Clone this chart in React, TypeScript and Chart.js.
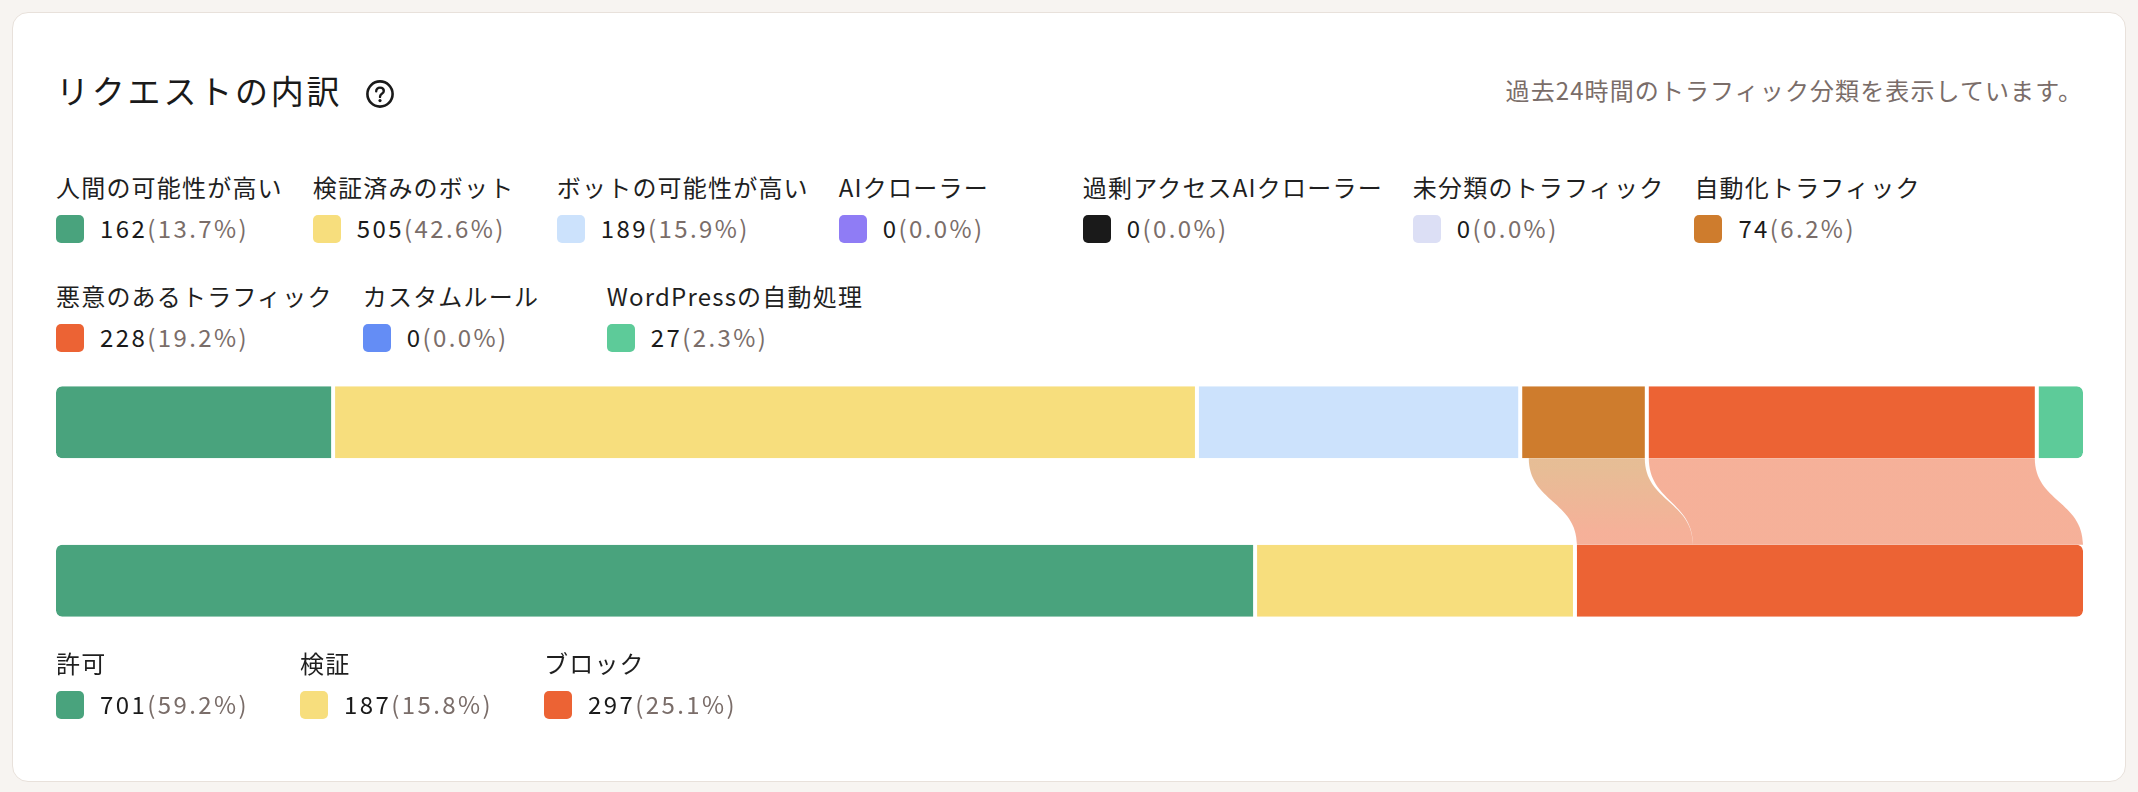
import React, { useEffect, useRef } from "react";
import { Chart, registerables } from "chart.js";

Chart.register(...registerables);

// ---- data ----
const sourceLabels = [
  "人間の可能性が高い",
  "検証済みのボット",
  "ボットの可能性が高い",
  "AIクローラー",
  "過剰アクセスAIクローラー",
  "未分類のトラフィック",
  "自動化トラフィック",
  "悪意のあるトラフィック",
  "カスタムルール",
  "WordPressの自動処理",
];
const sourceValues = [162, 505, 189, 0, 0, 0, 74, 228, 0, 27];
const sourcePercents = ["13.7%", "42.6%", "15.9%", "0.0%", "0.0%", "0.0%", "6.2%", "19.2%", "0.0%", "2.3%"];
const sourceColors = [
  "#49A37D",
  "#F7DE7D",
  "#CCE2FC",
  "#8F7CF5",
  "#1A1A1A",
  "#DCDFF5",
  "#CE7C2D",
  "#EC6334",
  "#648DF5",
  "#5DCB99",
];

const outcomeLabels = ["許可", "検証", "ブロック"];
const outcomeValues = [701, 187, 297];
const outcomePercents = ["59.2%", "15.8%", "25.1%"];
const outcomeColors = ["#49A37D", "#F7DE7D", "#EC6334"];

const flowFrom = ["自動化トラフィック", "悪意のあるトラフィック"];
const flowTo = ["ブロック", "ブロック"];
const flowValues = [69, 228];

const rowLabels = ["source", "outcome"];

const FONT = "'Noto Sans CJK JP', 'Noto Sans', sans-serif";
const GAP = 2;
const RADIUS = 6;

function hexToRgba(hex: string, a: number) {
  const h = hex.replace("#", "");
  const r = parseInt(h.slice(0, 2), 16);
  const g = parseInt(h.slice(2, 4), 16);
  const b = parseInt(h.slice(4, 6), 16);
  return `rgba(${r},${g},${b},${a})`;
}

function rowValuesFor(row: number): number[] {
  const out: number[] = [];
  sourceLabels.forEach((_, i) => out.push(row === 0 ? sourceValues[i] : 0));
  outcomeLabels.forEach((_, i) => out.push(row === 1 ? outcomeValues[i] : 0));
  return out;
}

function edgeInfo(ctx: any) {
  const vals = rowValuesFor(ctx.dataIndex);
  let first = -1;
  let last = -1;
  vals.forEach((v, i) => {
    if (v > 0) {
      if (first < 0) first = i;
      last = i;
    }
  });
  return { first, last, v: vals[ctx.datasetIndex] };
}

function cumulative(values: number[]) {
  const starts: number[] = [];
  let acc = 0;
  values.forEach((v) => {
    starts.push(acc);
    acc += v;
  });
  return starts;
}

function firstLast(values: number[]) {
  let first = -1;
  let last = -1;
  values.forEach((v, i) => {
    if (v > 0) {
      if (first < 0) first = i;
      last = i;
    }
  });
  return { first, last };
}

const flowPlugin = {
  id: "flows",
  beforeDatasetsDraw(chart: any) {
    const x = chart.scales.x;
    const ctx = chart.ctx;
    const topEl = chart.getDatasetMeta(0).data[0];
    const botEl = chart.getDatasetMeta(sourceLabels.length).data[1];
    if (!topEl || !botEl) return;
    const tp = topEl.getProps(["y", "height"], true);
    const bp = botEl.getProps(["y", "height"], true);
    const yTop = tp.y + tp.height / 2;
    const yBot = bp.y - bp.height / 2;
    const ym = (yTop + yBot) / 2;

    const srcStart = cumulative(sourceValues);
    const tgtStart = cumulative(outcomeValues);
    const sFL = firstLast(sourceValues);
    const tFL = firstLast(outcomeValues);

    const srcUsed: number[] = sourceValues.map(() => 0);
    const srcListed: number[] = sourceValues.map(() => 0);
    flowFrom.forEach((f, k) => {
      srcListed[sourceLabels.indexOf(f)] += flowValues[k];
    });
    const tgtUsed: number[] = outcomeValues.map(() => 0);

    flowFrom.forEach((f, k) => {
      const si = sourceLabels.indexOf(f);
      const ti = outcomeLabels.indexOf(flowTo[k]);
      const v = flowValues[k];
      const sEnd = srcStart[si] + sourceValues[si];
      const a0 = sEnd - srcListed[si] + srcUsed[si];
      const a1 = a0 + v;
      srcUsed[si] += v;
      const b0 = tgtStart[ti] + tgtUsed[ti];
      const b1 = b0 + v;
      tgtUsed[ti] += v;

      const sVisL = x.getPixelForValue(srcStart[si]) + (si === sFL.first ? 0 : GAP);
      const sVisR = x.getPixelForValue(sEnd) - (si === sFL.last ? 0 : GAP);
      const tVisL = x.getPixelForValue(tgtStart[ti]) + (ti === tFL.first ? 0 : GAP);
      const tVisR = x.getPixelForValue(tgtStart[ti] + outcomeValues[ti]) - (ti === tFL.last ? 0 : GAP);

      const l0 = Math.max(x.getPixelForValue(a0), sVisL);
      const r0 = Math.min(x.getPixelForValue(a1), sVisR);
      const l1 = Math.max(x.getPixelForValue(b0), tVisL);
      const r1 = Math.min(x.getPixelForValue(b1), tVisR);

      const grad = ctx.createLinearGradient(0, yTop, 0, yBot);
      grad.addColorStop(0.1, hexToRgba(sourceColors[si], 0.5));
      grad.addColorStop(0.85, hexToRgba(outcomeColors[ti], 0.5));

      ctx.save();
      ctx.beginPath();
      ctx.moveTo(l0, yTop);
      ctx.bezierCurveTo(l0, ym, l1, ym, l1, yBot);
      ctx.lineTo(r1, yBot);
      ctx.bezierCurveTo(r1, ym, r0, ym, r0, yTop);
      ctx.closePath();
      ctx.fillStyle = grad;
      ctx.fill();
      ctx.restore();
    });
  },
};

function LegendItem(props: { label: string; value: number; pct: string; color: string }) {
  return (
    <div style={{ minWidth: 214, display: "flex", flexDirection: "column" }}>
      <div
        style={{
          height: 32,
          lineHeight: "32px",
          fontSize: 24,
          letterSpacing: 1.2,
          color: "#1f1f1f",
          whiteSpace: "nowrap",
        }}
      >
        {props.label}
      </div>
      <div style={{ marginTop: 12, height: 28, display: "flex", alignItems: "center" }}>
        <span
          style={{
            width: 28,
            height: 28,
            borderRadius: 5,
            background: props.color,
            flex: "none",
            display: "inline-block",
          }}
        />
        <span
          style={{
            marginLeft: 16,
            fontSize: 24,
            lineHeight: "28px",
            letterSpacing: 2.4,
            whiteSpace: "nowrap",
            position: "relative",
            top: -1,
          }}
        >
          <span style={{ color: "#1a1a1a" }}>{props.value}</span>
          <span style={{ color: "#7A6D69" }}>({props.pct})</span>
        </span>
      </div>
    </div>
  );
}

export default function App() {
  const canvasRef = useRef<HTMLCanvasElement | null>(null);

  useEffect(() => {
    if (!canvasRef.current) return;
    const total = sourceValues.reduce((a, b) => a + b, 0);
    const datasets: any[] = [
      ...sourceLabels.map((l, i) => ({
        label: l,
        data: [sourceValues[i], null],
        backgroundColor: sourceColors[i],
      })),
      ...outcomeLabels.map((l, i) => ({
        label: l,
        data: [null, outcomeValues[i]],
        backgroundColor: outcomeColors[i],
      })),
    ];
    const chart = new Chart(canvasRef.current, {
      type: "bar",
      data: { labels: rowLabels, datasets },
      plugins: [flowPlugin],
      options: {
        animation: false,
        responsive: true,
        maintainAspectRatio: false,
        indexAxis: "y",
        layout: { padding: 0 },
        datasets: {
          bar: {
            barThickness: 72,
            borderSkipped: false,
            borderColor: "#ffffff",
            inflateAmount: 0,
            borderWidth: (ctx: any) => {
              const { first, last, v } = edgeInfo(ctx);
              if (!v) return 0;
              return {
                left: ctx.datasetIndex === first ? 0 : GAP,
                right: ctx.datasetIndex === last ? 0 : GAP,
                top: 0,
                bottom: 0,
              };
            },
            borderRadius: (ctx: any) => {
              const { first, last } = edgeInfo(ctx);
              const f = ctx.datasetIndex === first ? RADIUS : 0;
              const l = ctx.datasetIndex === last ? RADIUS : 0;
              return { topLeft: f, bottomLeft: f, topRight: l, bottomRight: l };
            },
          },
        } as any,
        scales: {
          x: { type: "linear", stacked: true, min: 0, max: total, display: false },
          y: { type: "category", stacked: true, display: false, offset: true },
        },
        plugins: {
          legend: { display: false },
          tooltip: { enabled: false },
        },
      } as any,
    });
    return () => chart.destroy();
  }, []);

  return (
    <div
      style={{
        position: "fixed",
        inset: 0,
        background: "#F7F4F1",
        fontFamily: FONT,
        overflow: "hidden",
      }}
    >
      <div
        style={{
          position: "absolute",
          left: 12,
          top: 12,
          width: 2114,
          height: 770,
          background: "#ffffff",
          border: "1.5px solid #E8E1DB",
          borderRadius: 16,
          boxSizing: "border-box",
        }}
      />
      <div
        style={{
          position: "absolute",
          left: 56,
          top: 70,
          fontSize: 33,
          lineHeight: "40px",
          letterSpacing: 2.8,
          color: "#1a1a1a",
          whiteSpace: "nowrap",
        }}
      >
        リクエストの内訳
      </div>
      <svg
        style={{ position: "absolute", left: 366, top: 80 }}
        width={28}
        height={28}
        viewBox="0 0 28 28"
      >
        <circle cx={14} cy={14} r={12.6} fill="none" stroke="#1a1a1a" strokeWidth={2.6} />
        <path
          d="M10.2 11.2 C10.2 8.9 11.9 7.6 14 7.6 C16.2 7.6 17.8 9 17.8 10.9 C17.8 12.6 16.7 13.4 15.6 14.1 C14.6 14.8 14 15.4 14 16.9"
          fill="none"
          stroke="#1a1a1a"
          strokeWidth={2.4}
          strokeLinecap="round"
        />
        <circle cx={14} cy={20.6} r={1.6} fill="#1a1a1a" />
      </svg>
      <div
        style={{
          position: "absolute",
          right: 55,
          top: 74,
          fontSize: 24,
          lineHeight: "32px",
          letterSpacing: 1.1,
          color: "#7A6D69",
          whiteSpace: "nowrap",
        }}
      >
        過去24時間のトラフィック分類を表示しています。
      </div>

      <div
        style={{
          position: "absolute",
          left: 56,
          top: 171,
          width: 2027,
          display: "flex",
          flexWrap: "wrap",
          columnGap: 30,
          rowGap: 36.5,
        }}
      >
        {sourceLabels.map((l, i) => (
          <LegendItem key={l} label={l} value={sourceValues[i]} pct={sourcePercents[i]} color={sourceColors[i]} />
        ))}
      </div>

      <div
        style={{
          position: "absolute",
          left: 56,
          top: 343,
          width: 2027,
          height: 317,
          pointerEvents: "none",
        }}
      >
        <canvas ref={canvasRef} />
      </div>

      <div
        style={{
          position: "absolute",
          left: 56,
          top: 647,
          width: 2027,
          display: "flex",
          flexWrap: "wrap",
          columnGap: 30,
        }}
      >
        {outcomeLabels.map((l, i) => (
          <LegendItem key={l} label={l} value={outcomeValues[i]} pct={outcomePercents[i]} color={outcomeColors[i]} />
        ))}
      </div>
    </div>
  );
}
